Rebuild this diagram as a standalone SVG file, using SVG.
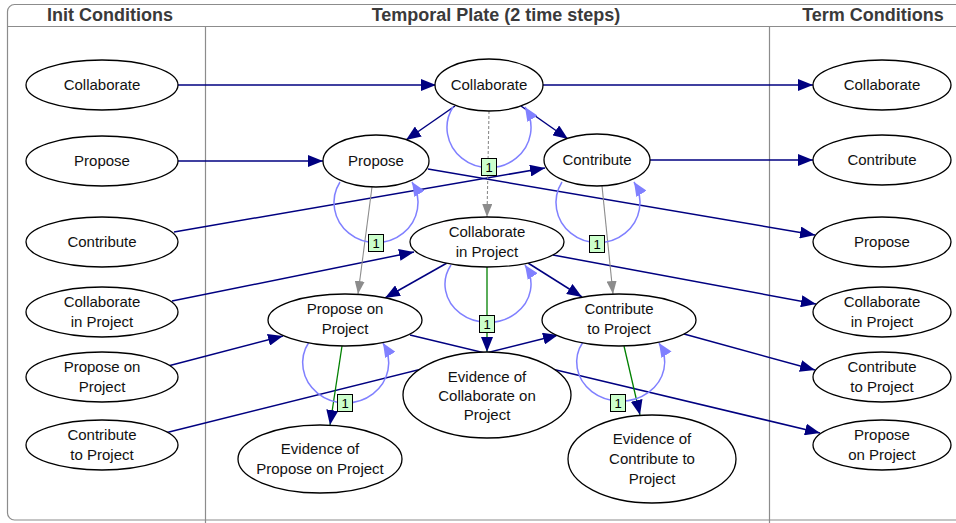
<svg xmlns="http://www.w3.org/2000/svg" width="956" height="523" viewBox="0 0 956 523">
<defs>
<style>
.frame{fill:#fff;stroke:#8c8c8c;stroke-width:1.2}
.div{stroke:#8c8c8c;stroke-width:1.2;fill:none}
.hdr{font-family:"Liberation Sans",Arial,sans-serif;font-size:18px;font-weight:bold;fill:#3a3a3a;text-anchor:middle}
.node ellipse{fill:#fff;stroke:#000;stroke-width:1.3}
.node text{font-family:"Liberation Sans",Arial,sans-serif;font-size:15px;fill:#111;text-anchor:middle}
.navy{stroke:#000080;stroke-width:1.5;fill:none;marker-end:url(#aNavy)}
.gray{stroke:#8c8c8c;stroke-width:1.1;fill:none;marker-end:url(#aGray)}
.green{stroke:#008000;stroke-width:1.3;fill:none;marker-end:url(#aNavy)}
.loop{stroke:#8080ff;stroke-width:1.5;fill:none;marker-end:url(#aBlue)}
.lbl rect{fill:#ccffcc;stroke:#000;stroke-width:1}
.lbl text{font-family:"Liberation Sans",Arial,sans-serif;font-size:13px;fill:#000;text-anchor:middle}
</style>
<marker id="aNavy" markerUnits="userSpaceOnUse" markerWidth="16" markerHeight="12" refX="15" refY="6" orient="auto"><path d="M0,0 L15,6 L0,12 z" fill="#000080"/></marker>
<marker id="aGray" markerUnits="userSpaceOnUse" markerWidth="14" markerHeight="10" refX="13" refY="5" orient="auto"><path d="M0,0 L13,5 L0,10 z" fill="#8c8c8c"/></marker>
<marker id="aBlue" markerUnits="userSpaceOnUse" markerWidth="15" markerHeight="12" refX="14" refY="6" orient="auto"><path d="M0,0 L14,6 L0,12 z" fill="#8080ff"/></marker>
</defs>
<rect class="frame" x="7.5" y="4.5" width="960" height="515.5" rx="7"/>
<line class="div" x1="7.5" y1="26.5" x2="956" y2="26.5"/>
<line class="div" x1="205.5" y1="26.5" x2="205.5" y2="523"/>
<line class="div" x1="769.5" y1="26.5" x2="769.5" y2="523"/>
<text class="hdr" x="110" y="21">Init Conditions</text>
<text class="hdr" x="496" y="21">Temporal Plate (2 time steps)</text>
<text class="hdr" x="873" y="21">Term Conditions</text>
<g id="connectors">
<path class="navy" d="M178,85 L436,85"/>
<path class="navy" d="M543,85 L813,85"/>
<path class="navy" d="M178,161 L323,161"/>
<path class="navy" d="M650,160 L813,160"/>
<path class="navy" d="M174,232 L545,168"/>
<path class="navy" d="M428,169 L815,235"/>
<path class="navy" d="M172,301 L414,252"/>
<path class="navy" d="M553,255 L816,304"/>
<path class="navy" d="M168,366 L283,336"/>
<path class="navy" d="M410,335 L820,433"/>
<path class="navy" d="M165,433 L558,335"/>
<path class="navy" d="M684,334 L815,370"/>
<path class="navy" d="M455,106 L406,140"/>
<path class="navy" d="M521,106 L568,139"/>
<path class="navy" d="M447,263 L385,298"/>
<path class="navy" d="M528,263 L582,297"/>
<path class="gray" stroke-dasharray="3,2" d="M489,111 L487,217"/>
<path class="gray" d="M372,187 L358,294"/>
<path class="gray" d="M602,186 L613,294"/>
<path class="green" d="M487,267 L487,352"/>
<path class="green" d="M342,346 L330,425"/>
<path class="green" d="M624,346 L640,415"/>
<path class="loop" d="M453,107 A42,40 0 1 0 525,107"/>
<path class="loop" d="M340,182 A42,40 0 1 0 412,182"/>
<path class="loop" d="M562,182 A42,40 0 1 0 634,182"/>
<path class="loop" d="M451,265 A43,38 0 1 0 525,265"/>
<path class="loop" d="M309,342 A43,40 0 1 0 383,343"/>
<path class="loop" d="M583,342 A44,39 0 1 0 659,343"/>
<g class="lbl"><rect x="481.5" y="158.5" width="15" height="17"/><text x="489" y="172">1</text></g>
<g class="lbl"><rect x="368.5" y="234.5" width="15" height="17"/><text x="376" y="248">1</text></g>
<g class="lbl"><rect x="589.5" y="235.5" width="15" height="17"/><text x="597" y="249">1</text></g>
<g class="lbl"><rect x="479.5" y="315.5" width="15" height="17"/><text x="487" y="329">1</text></g>
<g class="lbl"><rect x="337.5" y="394.5" width="15" height="17"/><text x="345" y="408">1</text></g>
<g class="lbl"><rect x="610.5" y="394.5" width="15" height="17"/><text x="618" y="408">1</text></g>
</g>
<g id="L1" class="node"><ellipse cx="102" cy="85" rx="76" ry="25"/><text x="102" y="90">Collaborate</text></g>
<g id="L2" class="node"><ellipse cx="102" cy="161" rx="76" ry="25"/><text x="102" y="166">Propose</text></g>
<g id="L3" class="node"><ellipse cx="102" cy="242" rx="76" ry="25"/><text x="102" y="247">Contribute</text></g>
<g id="L4" class="node"><ellipse cx="102" cy="312" rx="76" ry="25"/><text x="102" y="307">Collaborate</text><text x="102" y="327">in Project</text></g>
<g id="L5" class="node"><ellipse cx="102" cy="377" rx="76" ry="25"/><text x="102" y="372">Propose on</text><text x="102" y="392">Project</text></g>
<g id="L6" class="node"><ellipse cx="102" cy="445" rx="76" ry="25"/><text x="102" y="440">Contribute</text><text x="102" y="460">to Project</text></g>
<g id="R1" class="node"><ellipse cx="882" cy="85" rx="69" ry="25"/><text x="882" y="90">Collaborate</text></g>
<g id="R2" class="node"><ellipse cx="882" cy="160" rx="69" ry="25"/><text x="882" y="165">Contribute</text></g>
<g id="R3" class="node"><ellipse cx="882" cy="242" rx="69" ry="25"/><text x="882" y="247">Propose</text></g>
<g id="R4" class="node"><ellipse cx="882" cy="312" rx="69" ry="25"/><text x="882" y="307">Collaborate</text><text x="882" y="327">in Project</text></g>
<g id="R5" class="node"><ellipse cx="882" cy="377" rx="69" ry="25"/><text x="882" y="372">Contribute</text><text x="882" y="392">to Project</text></g>
<g id="R6" class="node"><ellipse cx="882" cy="445" rx="69" ry="25"/><text x="882" y="440">Propose</text><text x="882" y="460">on Project</text></g>
<g id="M1" class="node"><ellipse cx="489" cy="85" rx="54" ry="26"/><text x="489" y="90">Collaborate</text></g>
<g id="M2" class="node"><ellipse cx="376" cy="161" rx="53" ry="26"/><text x="376" y="166">Propose</text></g>
<g id="M3" class="node"><ellipse cx="597" cy="160" rx="53" ry="26"/><text x="597" y="165">Contribute</text></g>
<g id="M4" class="node"><ellipse cx="487" cy="242" rx="77" ry="25"/><text x="487" y="237">Collaborate</text><text x="487" y="257">in Project</text></g>
<g id="M5" class="node"><ellipse cx="345" cy="320" rx="77" ry="26"/><text x="345" y="314">Propose on</text><text x="345" y="334">Project</text></g>
<g id="M6" class="node"><ellipse cx="619" cy="320" rx="77" ry="26"/><text x="619" y="314">Contribute</text><text x="619" y="334">to Project</text></g>
<g id="E1" class="node"><ellipse cx="487" cy="395" rx="84" ry="43"/><text x="487" y="382">Evidence of</text><text x="487" y="401">Collaborate on</text><text x="487" y="420">Project</text></g>
<g id="E2" class="node"><ellipse cx="320" cy="459" rx="82" ry="34"/><text x="320" y="454">Evidence of</text><text x="320" y="474">Propose on Project</text></g>
<g id="E3" class="node"><ellipse cx="652" cy="459" rx="84" ry="44"/><text x="652" y="444">Evidence of</text><text x="652" y="464">Contribute to</text><text x="652" y="484">Project</text></g>
</svg>
